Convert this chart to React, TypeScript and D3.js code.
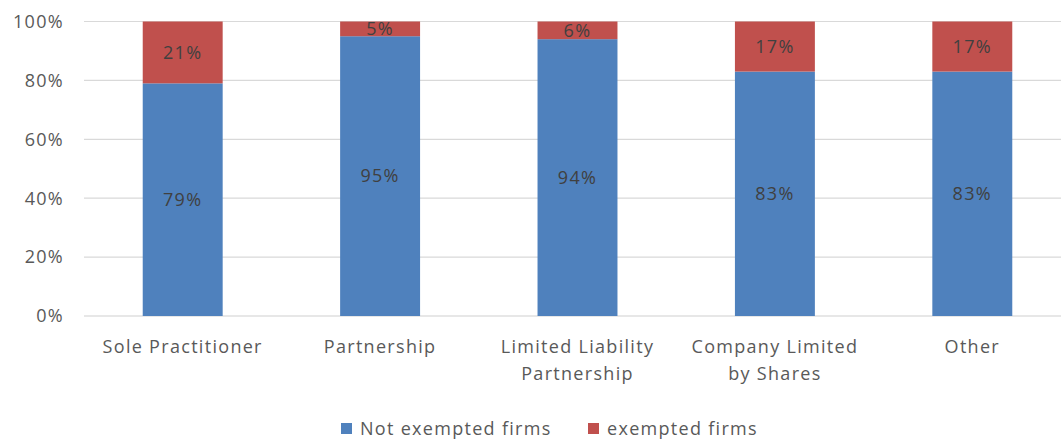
import React from "react";
import * as d3 from "d3";

const categories: string[][] = [
  ["Sole Practitioner"],
  ["Partnership"],
  ["Limited Liability", "Partnership"],
  ["Company Limited", "by Shares"],
  ["Other"],
];
const notExempted: number[] = [79, 95, 94, 83, 83];
const exempted: number[] = [21, 5, 6, 17, 17];
const yTicks: number[] = [0, 20, 40, 60, 80, 100];
const seriesNames: string[] = ["Not exempted firms", "exempted firms"];
const seriesColors: string[] = ["#4f81bd", "#c0504d"];

const W = 1061;
const H = 439;
const FONT = "'Open Sans', 'Noto Sans', sans-serif";
const LS = 1.3;

export default function App() {
  const keys = categories.map((_, i) => String(i));
  const x = d3.scaleBand<string>().domain(keys).range([84, 1071]).paddingInner(0.595).paddingOuter(0.2975);
  const y = d3.scaleLinear().domain([0, 100]).range([316, 21.5]);
  const rows = categories.map((c, i) => ({ key: String(i), a: notExempted[i], b: exempted[i] }));
  const stack = d3.stack<any>().keys(["a", "b"])(rows);

  return (
    <svg width={W} height={H} style={{ position: "absolute", left: 0, top: 0, background: "#fff" }} fontFamily={FONT} letterSpacing={LS}>
      {yTicks.map((t) => (
        <g key={t}>
          <line x1={84} x2={1071} y1={y(t)} y2={y(t)} stroke={t === 0 ? "#d0d0d0" : "#d9d9d9"} strokeWidth={1.2} />
          <text x={64} y={y(t)} dy="0.35em" textAnchor="end" fontSize={18} fill="#595959">
            {t}%
          </text>
        </g>
      ))}
      {stack.map((layer, si) =>
        layer.map((d, i) => {
          const x0 = x(String(i))!;
          const y0 = y(d[1]);
          const y1 = y(d[0]);
          return (
            <g key={`${si}-${i}`}>
              <rect x={x0} y={y0} width={x.bandwidth()} height={y1 - y0} fill={seriesColors[si]} />
              <text
                x={x0 + x.bandwidth() / 2}
                y={(y0 + y1) / 2}
                dy="0.35em"
                textAnchor="middle"
                fontSize={18}
                fill="#404040"
              >
                {Math.round(d[1] - d[0])}%
              </text>
            </g>
          );
        })
      )}
      {categories.map((lines, i) => (
        <text key={i} x={x(String(i))! + x.bandwidth() / 2} y={347} textAnchor="middle" fontSize={18} fill="#595959">
          {lines.map((l, j) => (
            <tspan key={j} x={x(String(i))! + x.bandwidth() / 2} y={347 + j * 27} dy="0.35em">
              {l}
            </tspan>
          ))}
        </text>
      ))}
      <g>
        {seriesNames.map((n, i) => {
          const lx = [341, 588][i];
          return (
            <g key={n}>
              <rect x={lx} y={423} width={11} height={11} fill={seriesColors[i]} />
              <text x={lx + 19} y={428.5} dy="0.35em" fontSize={18} fill="#595959">
                {n}
              </text>
            </g>
          );
        })}
      </g>
    </svg>
  );
}
